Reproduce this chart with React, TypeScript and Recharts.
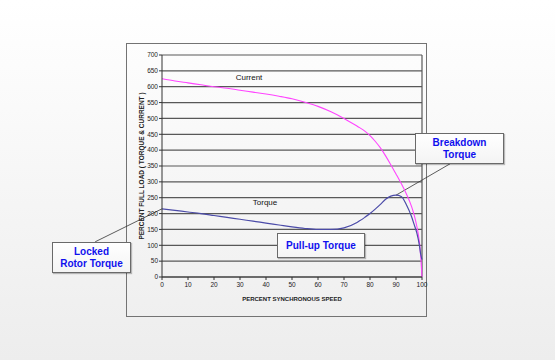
import { LineChart, Line, XAxis, YAxis, CartesianGrid, ReferenceLine } from 'recharts';

const speeds = [0, 5, 10, 15, 20, 25, 30, 35, 40, 45, 50, 55, 60, 65, 70, 75, 76, 78, 80, 82, 84, 86, 88, 90, 92, 94, 96, 97, 98, 99, 99.5, 100];
const current = [625, 618, 612, 606, 600, 595, 589, 583, 577, 570, 562, 551, 538, 521, 500, 476, 471, 460, 446, 428, 407, 382, 354, 325, 295, 262, 222, 195, 160, 110, 65, 0];
const torque = [215, 210, 205, 200, 194, 188, 182, 176, 170, 164, 158, 153, 150, 150, 155, 172, 177, 188, 200, 214, 229, 245, 255, 258, 254, 228, 190, 165, 139, 100, 72, 55];

const xTicks = [0, 10, 20, 30, 40, 50, 60, 70, 80, 90, 100];
const yTicks = [0, 50, 100, 150, 200, 250, 300, 350, 400, 450, 500, 550, 600, 650, 700];

const data = speeds.map((s, i) => ({ speed: s, current: current[i], torque: torque[i] }));

const peakIdx = torque.indexOf(Math.max(...torque));

const font = 'Arial, "Liberation Sans", sans-serif';

const calloutStyle: React.CSSProperties = {
    position: 'absolute',
    boxSizing: 'border-box',
    border: '1px solid #6a6a6a',
    background: 'linear-gradient(#ffffff, #f4f4f4)',
    boxShadow: '1px 1px 1px rgba(0,0,0,0.25)',
    color: '#1010ee',
    fontWeight: 'bold',
    fontSize: 10,
    lineHeight: '12px',
    textAlign: 'center',
    display: 'flex',
    flexDirection: 'column',
    justifyContent: 'center',
};

export default function App() {
    return (
        <div
            style={{
                position: 'absolute',
                left: 0,
                top: 0,
                width: 555,
                height: 360,
                background: 'linear-gradient(#ffffff 0%, #fafafa 30%, #ededed 100%)',
                fontFamily: font,
                overflow: 'hidden',
            }}
        >
            <div
                style={{
                    position: 'absolute',
                    left: 126,
                    top: 43,
                    width: 301,
                    height: 274,
                    boxSizing: 'border-box',
                    border: '1.5px solid #737373',
                }}
            />
            <div style={{ position: 'absolute', left: 0, top: 0 }}>
                <LineChart width={555} height={360} data={data} margin={{ top: 55, right: 133, bottom: 53, left: 132 }}>
                    <CartesianGrid vertical={false} stroke="#585858" strokeWidth={1.2} />
                    <XAxis
                        type="number"
                        dataKey="speed"
                        domain={[0, 100]}
                        ticks={xTicks}
                        interval={0}
                        height={30}
                        tickSize={3}
                        tickMargin={2}
                        axisLine={{ stroke: '#333' }}
                        tickLine={{ stroke: '#333' }}
                        tick={{ fontSize: 6.5, fill: '#222', fontFamily: font }}
                        label={{
                            value: 'PERCENT SYNCHRONOUS SPEED',
                            position: 'insideBottom',
                            offset: 6,
                            fontSize: 6,
                            fontWeight: 'bold',
                            fill: '#222',
                            fontFamily: font,
                        }}
                    />
                    <YAxis
                        domain={[0, 700]}
                        ticks={yTicks}
                        interval={0}
                        width={30}
                        tickSize={3}
                        tickMargin={1}
                        axisLine={{ stroke: '#333' }}
                        tickLine={{ stroke: '#333' }}
                        tick={{ fontSize: 6.5, fill: '#222', fontFamily: font }}
                        label={{
                            value: 'PERCENT FULL LOAD ( TORQUE & CURRENT )',
                            angle: -90,
                            position: 'center',
                            dx: -5,
                            fontSize: 6.5,
                            fontWeight: 'bold',
                            fill: '#222',
                            fontFamily: font,
                        }}
                    />
                    <ReferenceLine x={100} stroke="#585858" strokeWidth={1.2} />
                    <ReferenceLine
                        ifOverflow="visible"
                        stroke="#333"
                        strokeWidth={0.8}
                        segment={[
                            { x: speeds[0], y: torque[0] },
                            { x: -25.7, y: 111 },
                        ]}
                    />
                    <ReferenceLine
                        ifOverflow="visible"
                        stroke="#333"
                        strokeWidth={0.8}
                        segment={[
                            { x: speeds[peakIdx], y: torque[peakIdx] },
                            { x: 110.8, y: 357 },
                        ]}
                    />
                    <Line
                        type="monotone"
                        dataKey="current"
                        stroke="#ff44ff"
                        strokeWidth={1.1}
                        dot={false}
                        isAnimationActive={false}
                    />
                    <Line
                        type="monotone"
                        dataKey="torque"
                        stroke="#4b4ba8"
                        strokeWidth={1.2}
                        dot={false}
                        isAnimationActive={false}
                    />
                </LineChart>
            </div>
            <div style={{ position: 'absolute', left: 221, top: 73, width: 56, textAlign: 'center', fontSize: 8, color: '#111' }}>
                Current
            </div>
            <div style={{ position: 'absolute', left: 237, top: 198, width: 56, textAlign: 'center', fontSize: 8, color: '#111' }}>
                Torque
            </div>
            <div style={{ ...calloutStyle, left: 52, top: 242, width: 79, height: 31 }}>
                <span>Locked</span>
                <span>Rotor Torque</span>
            </div>
            <div style={{ ...calloutStyle, left: 415, top: 133, width: 89, height: 31 }}>
                <span>Breakdown</span>
                <span>Torque</span>
            </div>
            <div style={{ ...calloutStyle, left: 277, top: 233, width: 88, height: 25 }}>
                <span>Pull-up Torque</span>
            </div>
        </div>
    );
}
